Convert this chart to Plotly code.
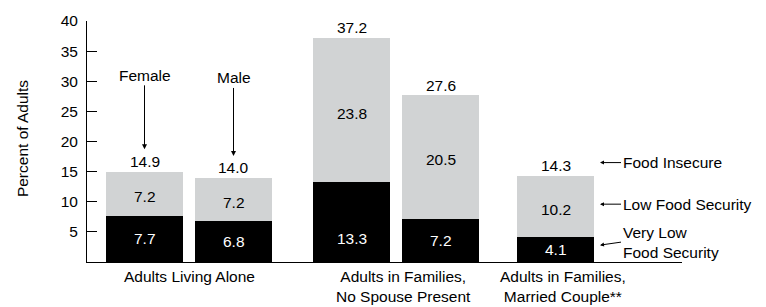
import plotly.graph_objects as go

# ---- data ----
bar_names = ["Female", "Male", "NoSpouse1", "NoSpouse2", "Married"]
very_low = [7.7, 6.8, 13.3, 7.2, 4.1]
low = [7.2, 7.2, 23.8, 20.5, 10.2]
totals = [14.9, 14.0, 37.2, 27.6, 14.3]
group_labels = ["Adults Living Alone",
                "Adults in Families,<br>No Spouse Present",
                "Adults in Families,<br>Married Couple**"]
y_ticks = [5, 10, 15, 20, 25, 30, 35, 40]

# ---- layout constants ----
FONT = "Liberation Sans, Arial, sans-serif"
FS = 15.5
GRAY = "#D1D3D4"
BW = 77          # bar width (x units == px)
GAP = 12         # gap between bars in a group
group_starts = [19, 226, 430]
group_sizes = [2, 2, 1]
xs = []
group_centers = []
for s, n in zip(group_starts, group_sizes):
    cs = [s + BW / 2 + i * (BW + GAP) for i in range(n)]
    xs += cs
    group_centers.append((cs[0] + cs[-1]) / 2)

fig = go.Figure()
fig.add_bar(x=xs, y=very_low, width=BW, marker=dict(color="black", line=dict(width=0)),
            name="Very Low Food Security", hoverinfo="skip")
fig.add_bar(x=xs, y=low, width=BW, marker=dict(color=GRAY, line=dict(width=0)),
            name="Low Food Security", hoverinfo="skip")

ann = []
for x, v, l, t in zip(xs, very_low, low, totals):
    ann.append(dict(x=x, y=t, text=f"{t:.1f}", showarrow=False, yanchor="bottom", yshift=0,
                    font=dict(color="black")))
    ann.append(dict(x=x, y=v + l / 2, text=f"{l:.1f}", showarrow=False, yshift=-3,
                    font=dict(color="black")))
    ann.append(dict(x=x, y=min(v / 2, 3.85), text=f"{v:.1f}", showarrow=False,
                    font=dict(color="white")))

# Female / Male pointers
pointer = [("Female", 3.8, -74), ("Male", 3.6, -78)]
for i, (name, off, ayv) in enumerate(pointer):
    ann.append(dict(x=xs[i], y=totals[i] + off, text=name, showarrow=True, ax=0, ay=ayv,
                    arrowhead=2, arrowsize=1, arrowwidth=1, arrowcolor="black",
                    standoff=0, startstandoff=0, font=dict(color="black")))

# right side key labels
key = [("Food Insecure", 16.5, 0), ("Low Food Security", 9.6, 0),
       ("Very Low<br>Food Security", 2.8, -3)]
mx = xs[-1] + BW / 2 + 6
for txt, yv, ayv in key:
    ann.append(dict(x=mx, y=yv, text=txt, showarrow=True, ax=21, ay=ayv,
                    xanchor="left", align="left", arrowhead=2, arrowsize=0.8, arrowwidth=1,
                    arrowcolor="black", standoff=0, font=dict(color="black")))

# group labels
for gc, gl in zip(group_centers, group_labels):
    ann.append(dict(x=gc, y=0, yref="paper", text=gl, showarrow=False, yanchor="top",
                    xanchor="center", yshift=-4, xshift=7 if "<br>" in gl else 0,
                    font=dict(color="black")))

# y title
ann.append(dict(x=-65 / 595, y=0.51, xref="paper", yref="paper", text="Percent of Adults",
                textangle=-90, showarrow=False, xanchor="center", yanchor="middle",
                font=dict(color="black")))

fig.update_layout(
    width=766, height=307,
    margin=dict(l=87, r=84, t=12, b=45),
    barmode="stack", showlegend=False,
    plot_bgcolor="white", paper_bgcolor="white",
    font=dict(family=FONT, size=FS, color="black"),
    annotations=ann,
    xaxis=dict(range=[0, 595], showline=True, linecolor="black", linewidth=1,
               showticklabels=False, ticks="", showgrid=False, zeroline=False, fixedrange=True),
    yaxis=dict(range=[0, 40], tickvals=y_ticks, ticks="inside", ticklen=10, tickwidth=1,
               tickcolor="black", showline=True, linecolor="black", linewidth=1,
               showgrid=False, zeroline=False, ticklabelstandoff=5, fixedrange=True),
)

fig.write_html("out.html", config={"displayModeBar": False},
               post_script="document.body.style.margin='0';document.body.style.overflow='hidden';")
